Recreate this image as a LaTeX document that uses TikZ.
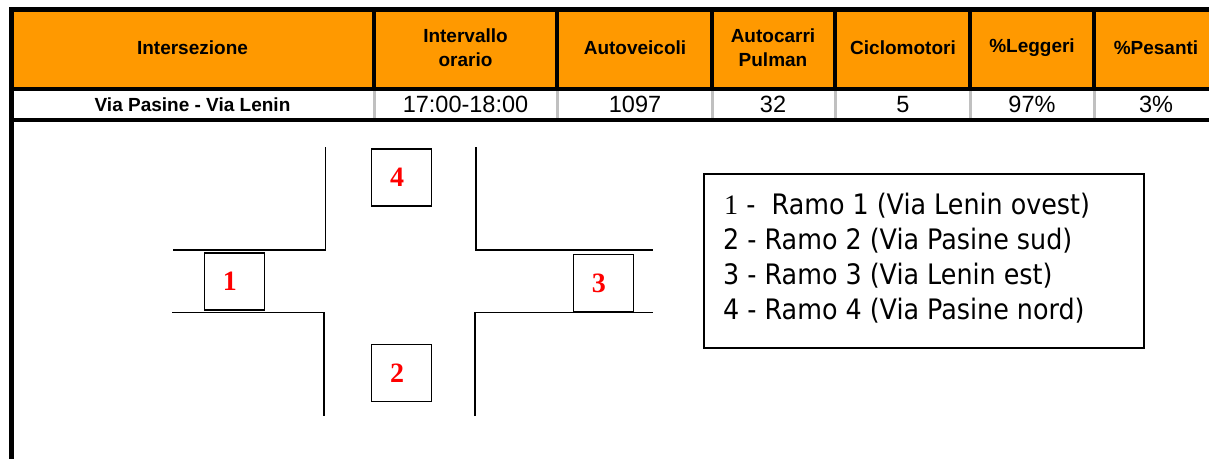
\documentclass[tikz,border=0pt]{standalone}
\usepackage{fontspec}
\setmainfont{Liberation Sans}
\newfontfamily\keyfont[FakeStretch=0.9]{DejaVu Sans}
\newfontfamily\numfont{Liberation Serif}
\usepackage{tikz}
\usetikzlibrary{positioning}
\definecolor{hdrorange}{HTML}{FF9900}
\definecolor{cellgray}{HTML}{C0C0C0}
\tikzset{
  road/.style={line width=1.6pt},
  rule/.style={line width=4.5pt},
  armbox/.style={draw,line width=1.5pt,minimum width=60pt,minimum height=57pt,inner sep=0pt},
  armnum/.style={text=red,inner sep=0pt,font=\numfont\bfseries\fontsize{28}{28}\selectfont},
  head/.style={align=center,inner sep=0pt,font=\bfseries\fontsize{19}{24}\selectfont},
  cell/.style={inner sep=0pt,font=\fontsize{23.5}{26}\selectfont},
  keyline/.style={anchor=base west,inner sep=0pt,font=\keyfont\fontsize{28.2}{34}\selectfont}
}

\begin{document}
\begin{tikzpicture}[x=1pt,y=-1pt]
  \useasboundingbox (0,0) rectangle (1209,459);
  % table
  \fill[hdrorange] (11,9) rectangle (1216,89);
  \foreach \x in {374,557,712,835,970,1094}{
    \draw[line width=4pt] (\x,9) -- (\x,89);
    \draw[cellgray,line width=3pt] (\x,89) -- (\x,120);
  }
  \draw[rule] (9,9.5) -- (1216,9.5);
  \draw[rule] (9,89) -- (1216,89);
  \draw[rule] (9,120) -- (1216,120);
  \draw[line width=5pt] (11.5,7) -- (11.5,459);

  \node[head] (h1) at (192.5,48) {Intersezione};
  \node[head] (h2) at (465.5,48) {Intervallo\\orario};
  \node[head] (h3) at (635,48) {Autoveicoli};
  \node[head] (h4) at (773,48) {Autocarri\\Pulman};
  \node[head] (h5) at (903,48) {Ciclomotori};
  \node[head] (h6) at (1032,48) {\%Leggeri};
  \node[head] (h7) at (1156,48) {\%Pesanti};

  \node[head] (d1) at (192.5,104.5) {Via Pasine - Via Lenin};
  \node[cell] (d2) at (465.5,104.5) {17:00-18:00};
  \node[cell] (d3) at (635,104.5) {1097};
  \node[cell] (d4) at (773,104.5) {32};
  \node[cell] (d5) at (903,104.5) {5};
  \node[cell] (d6) at (1032,104.5) {97\%};
  \node[cell] (d7) at (1156,104.5) {3\%};

  % intersection
  \draw[road] (173,250) -- (325.5,250) -- (325.5,147);
  \draw[road] (172,312.5) -- (324,312.5) -- (324,416);
  \draw[road] (476,147) -- (476,250) -- (653,250);
  \draw[road] (475,416) -- (475,312.5) -- (653,312.5);

  \node[armbox] (b1) at (234.3,281.3) {};
  \node[armbox] (b2) at (401.7,373) {};
  \node[armbox] (b3) at (603.3,283) {};
  \node[armbox] (b4) at (401.7,177.3) {};
  \node[armnum] (n1) at ([xshift=-4.5pt]b1.center) {1};
  \node[armnum] (n2) at ([xshift=-4.5pt]b2.center) {2};
  \node[armnum] (n3) at ([xshift=-4.5pt]b3.center) {3};
  \node[armnum] (n4) at ([xshift=-4.5pt]b4.center) {4};

  % legend
  \node[draw,line width=1.3pt,minimum width=440pt,minimum height=174pt,inner sep=0pt] (key) at (924,261) {};
  \node[keyline] (k1) at (724,214) {{\numfont 1} -\ \ Ramo 1 (Via Lenin ovest)};
  \node[keyline] (k2) at (723,249) {2 - Ramo 2 (Via Pasine sud)};
  \node[keyline] (k3) at (723,284) {3 - Ramo 3 (Via Lenin est)};
  \node[keyline] (k4) at (723,319) {4 - Ramo 4 (Via Pasine nord)};
\end{tikzpicture}
\end{document}
